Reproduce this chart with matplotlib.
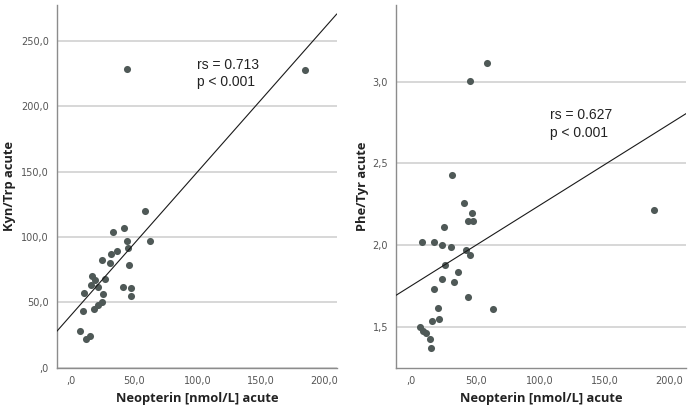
import matplotlib
matplotlib.use("Agg")
import matplotlib.pyplot as plt
import numpy as np

# ---- data ----
neo_kyn = [44.3, 185.0, 58.8, 33.8, 42.4, 44.3, 62.7, 45.6, 36.4, 32.0,
           25.1, 31.4, 46.2, 17.0, 19.1, 16.2, 27.0, 10.4, 21.9, 41.2,
           47.5, 47.5, 25.9, 24.9, 21.5, 18.8, 9.9, 7.7, 12.2, 15.6]
kyn_trp = [228.8, 227.5, 120.1, 104.0, 106.6, 96.9, 96.9, 91.3, 89.5, 86.7,
           82.6, 80.3, 78.8, 70.3, 67.0, 63.2, 68.0, 57.3, 61.5, 61.5,
           60.9, 54.8, 56.3, 50.4, 47.7, 44.6, 43.3, 28.0, 21.7, 24.4]

neo_phe = [59.2, 45.5, 31.8, 41.1, 47.5, 44.2, 47.8, 25.3, 188.6, 8.8,
           17.6, 24.3, 31.0, 42.4, 46.0, 26.6, 36.4, 24.3, 33.6, 18.1,
           44.4, 63.3, 20.7, 21.5, 16.0, 7.0, 9.3, 11.4, 15.0, 15.3]
phe_tyr = [3.117, 3.003, 2.427, 2.257, 2.194, 2.145, 2.145, 2.110, 2.213, 2.017,
           2.017, 1.998, 1.986, 1.968, 1.941, 1.876, 1.837, 1.792, 1.772, 1.729,
           1.684, 1.608, 1.616, 1.547, 1.535, 1.496, 1.474, 1.460, 1.425, 1.371]

# fit lines (intercept, slope) as shown in the reference
fit_kyn = (39.8, 1.099)
fit_phe = (1.750, 0.00495)

stats_kyn = ["rs = 0.713", "p < 0.001"]
stats_phe = ["rs = 0.627", "p < 0.001"]

x_ticks = [0, 50, 100, 150, 200]
kyn_ticks = [0, 50, 100, 150, 200, 250]
phe_ticks = [1.5, 2.0, 2.5, 3.0]

x_label = "Neopterin [nmol/L] acute"
y_label_kyn = "Kyn/Trp acute"
y_label_phe = "Phe/Tyr acute"

def fmt(v):
    s = f"{v:.1f}".replace(".", ",")
    if s.startswith("0,"):
        s = s[1:]
    return s

dot_color = "#4f5957"
grid_color = "#d4d4d4"
spine_color = "#8c8c8c"

fig = plt.figure(figsize=(6.93, 4.13), dpi=100)
ax1 = fig.add_axes([0.0823, 0.1097, 0.4035, 0.878])
ax2 = fig.add_axes([0.5719, 0.1097, 0.4185, 0.878])

def style(ax, xlim, ylim, yticks, ylabel, ylab_x):
    ax.set_xlim(*xlim)
    ax.set_ylim(*ylim)
    ax.set_xticks(x_ticks)
    ax.set_xticklabels([fmt(v) for v in x_ticks])
    ax.set_yticks(yticks)
    ax.set_yticklabels([fmt(v) for v in yticks])
    for s in ["top", "right"]:
        ax.spines[s].set_visible(False)
    for s in ["left", "bottom"]:
        ax.spines[s].set_color(spine_color)
        ax.spines[s].set_linewidth(1.0)
    ax.tick_params(axis="both", length=0, labelsize=7, labelcolor="#555555")
    ax.tick_params(axis="y", pad=6)
    ax.tick_params(axis="x", pad=6)
    ax.yaxis.grid(True, color=grid_color, linewidth=1.3)
    ax.set_axisbelow(True)
    ax.set_xlabel(x_label, fontsize=9.3, fontweight="bold", family="Open Sans",
                  color="#222222")
    ax.set_ylabel(ylabel, fontsize=9.3, fontweight="bold", family="Open Sans",
                  color="#222222")
    ax.xaxis.set_label_coords(0.5, -0.068)
    ax.yaxis.set_label_coords(ylab_x, 0.5)

style(ax1, (-10.7, 210), (0, 277.5), kyn_ticks, y_label_kyn, -0.145)
style(ax2, (-11.4, 213.4), (1.249, 3.47), phe_ticks, y_label_phe, -0.093)

ax1.scatter(neo_kyn, kyn_trp, s=26, color=dot_color, linewidths=0, zorder=3)
ax2.scatter(neo_phe, phe_tyr, s=26, color=dot_color, linewidths=0, zorder=3)

xl = np.array(ax1.get_xlim())
ax1.plot(xl, fit_kyn[0] + fit_kyn[1] * xl, color="#1a1a1a", linewidth=0.8, zorder=4)
xr = np.array(ax2.get_xlim())
ax2.plot(xr, fit_phe[0] + fit_phe[1] * xr, color="#1a1a1a", linewidth=0.8, zorder=4)

ax1.text(99.8, 231.6, stats_kyn[0], fontsize=10, family="Liberation Sans",
         va="center", ha="left", color="#222222")
ax1.text(99.8, 218.8, stats_kyn[1], fontsize=10, family="Liberation Sans",
         va="center", ha="left", color="#222222")
ax2.text(107.5, 2.796, stats_phe[0], fontsize=10, family="Liberation Sans",
         va="center", ha="left", color="#222222")
ax2.text(107.5, 2.688, stats_phe[1], fontsize=10, family="Liberation Sans",
         va="center", ha="left", color="#222222")

fig.savefig("out.png", dpi=100)
